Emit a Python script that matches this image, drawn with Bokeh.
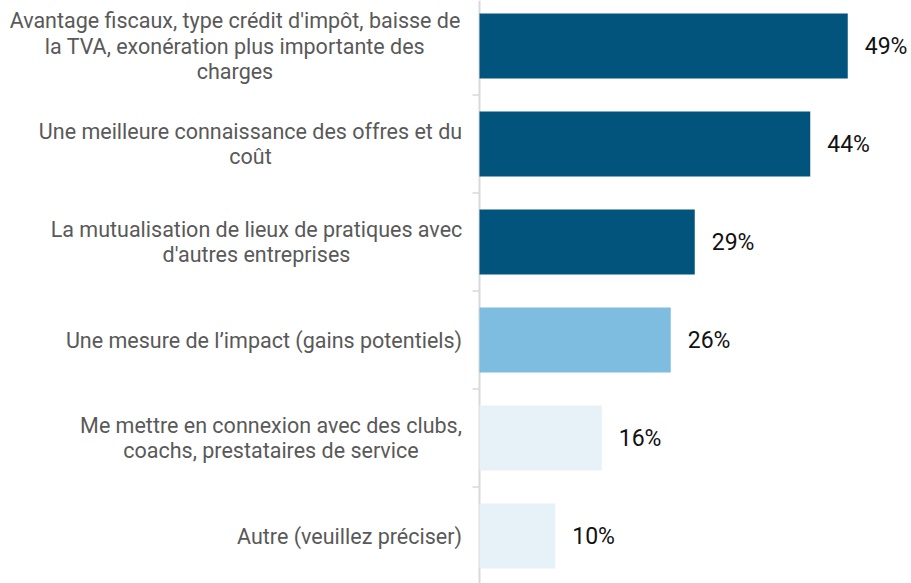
from bokeh.plotting import figure
from bokeh.models import Range1d, Span
from bokeh.core.properties import value
from bokeh.embed import file_html
from bokeh.resources import INLINE
import math

# ---- data ----
categories = [
    "Avantage fiscaux, type crédit d'impôt, baisse de\nla TVA, exonération plus importante des\ncharges",
    "Une meilleure connaissance des offres et du\ncoût",
    "La mutualisation de lieux de pratiques avec\nd'autres entreprises",
    "Une mesure de l\u2019impact (gains potentiels)",
    "Me mettre en connexion avec des clubs,\ncoachs, prestataires de service",
    "Autre (veuillez préciser)",
]
values = [49.1, 44.1, 28.7, 25.5, 16.3, 10.1]
value_labels = ["49%", "44%", "29%", "26%", "16%", "10%"]

# ---- styles ----
bar_colors = ["#02547D", "#02547D", "#02547D", "#7EBDE0", "#E6F1F8", "#E6F1F8"]
label_block_widths = [453, 422, 410, 395, 381, 224]  # px, for centring multi-line labels

n = len(categories)
ypos = [n - 1 - i for i in range(n)]
label_offsets = [-(18 + w / 2) for w in label_block_widths]

W, H = 911, 583
AX = 479      # axis position in px from left
TOP = 45.5    # first bar centre in px from top
p = figure(width=W, height=H, output_backend="svg", toolbar_location=None,
           x_range=Range1d(-AX / 7.5, (W - AX) / 7.5),
           y_range=Range1d((n - 1) + TOP / 98 - H / 98, (n - 1) + TOP / 98),
           min_border=0, outline_line_color=None)
p.axis.visible = False
p.grid.visible = False
p.background_fill_color = "white"
p.border_fill_color = "white"

p.add_layout(Span(location=0, dimension="height", line_color="#d9d9d9",
                  line_width=2, level="underlay"))

# ticks at band boundaries
bounds = [i + 0.5 for i in range(n - 1)]
p.ray(x=[0] * len(bounds), y=bounds, length=7, length_units="screen",
      angle=math.pi, line_color="#d9d9d9", line_width=1.5)

p.hbar(y=ypos, left=0, right=values, height=65 / 98, color=bar_colors, line_color=None)

p.text(x=values, y=ypos, text=value_labels, x_offset=17, text_align="left",
       text_baseline="middle", text_font=value("Roboto"), text_font_size="23px",
       text_color="#111111")

p.text(x=[0] * n, y=ypos, text=categories, x_offset=label_offsets, text_align="center",
       text_baseline="middle", text_font=value("Roboto"), text_font_size="21.5px",
       text_color="#595959", text_line_height=1.035)

open("out.html", "w").write(file_html(p, INLINE))
